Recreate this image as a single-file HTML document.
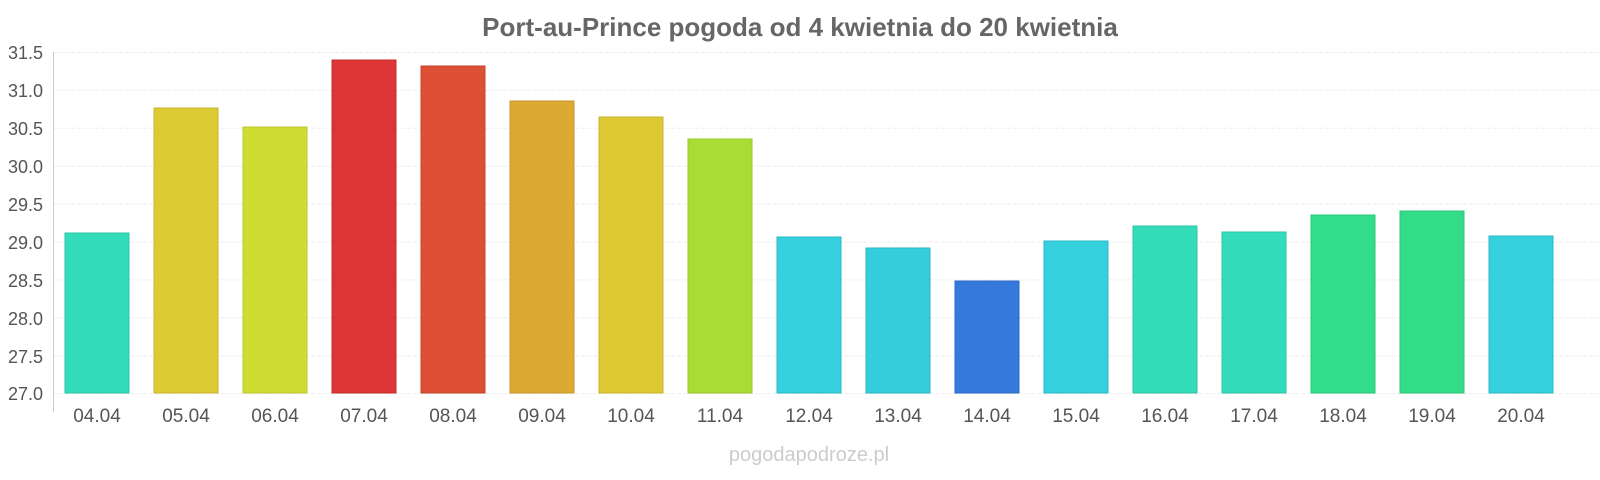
<!DOCTYPE html>
<html><head><meta charset="utf-8"><style>
html,body{margin:0;padding:0;background:#fff;overflow:hidden;width:1600px;height:480px;}
svg{display:block;font-family:"Liberation Sans",sans-serif;}
</style></head><body>
<svg width="1600" height="480" viewBox="0 0 1600 480" xmlns="http://www.w3.org/2000/svg">
<text x="800" y="36" text-anchor="middle" font-size="26" font-weight="bold" fill="#666">Port-au-Prince pogoda od 4 kwietnia do 20 kwietnia</text>
<g stroke="#eee" stroke-width="1" stroke-dasharray="4,2">
<line x1="53" x2="1600" y1="52.5" y2="52.5"/><line x1="53" x2="1600" y1="90.4" y2="90.4"/>
<line x1="53" x2="1600" y1="128.3" y2="128.3"/><line x1="53" x2="1600" y1="166.2" y2="166.2"/>
<line x1="53" x2="1600" y1="204.1" y2="204.1"/><line x1="53" x2="1600" y1="242" y2="242"/>
<line x1="53" x2="1600" y1="279.9" y2="279.9"/><line x1="53" x2="1600" y1="317.8" y2="317.8"/>
<line x1="53" x2="1600" y1="355.7" y2="355.7"/><line x1="53" x2="1600" y1="393.6" y2="393.6"/>
</g>
<line x1="53.5" x2="53.5" y1="52" y2="412" stroke="#ccc"/>
<g font-size="18" fill="#555" text-anchor="end">
<text x="43" y="59">31.5</text><text x="43" y="97">31.0</text><text x="43" y="135">30.5</text>
<text x="43" y="173">30.0</text><text x="43" y="211">29.5</text><text x="43" y="249">29.0</text>
<text x="43" y="287">28.5</text><text x="43" y="325">28.0</text><text x="43" y="363">27.5</text>
<text x="43" y="400">27.0</text>
</g>
<g stroke-width="1">
<rect x="65" y="233" width="64" height="160" fill="#33ddbb" stroke="#2cc4a6"/>
<rect x="154" y="108" width="64" height="285" fill="#dccb33" stroke="#c9b42c"/>
<rect x="243" y="127" width="64" height="266" fill="#cfdd33" stroke="#bcc82c"/>
<rect x="332" y="60" width="64" height="333" fill="#dd3535" stroke="#c42c2c"/>
<rect x="421" y="66" width="64" height="327" fill="#dd5035" stroke="#c4452c"/>
<rect x="510" y="101" width="64" height="292" fill="#dca933" stroke="#c9962c"/>
<rect x="599" y="117" width="64" height="276" fill="#dcc833" stroke="#c9b32c"/>
<rect x="688" y="139" width="64" height="254" fill="#aadd33" stroke="#98c62c"/>
<rect x="777" y="237" width="64" height="156" fill="#35cfdd" stroke="#2cb8c4"/>
<rect x="866" y="248" width="64" height="145" fill="#35cddd" stroke="#2cb6c4"/>
<rect x="955" y="281" width="64" height="112" fill="#3579dd" stroke="#2c6ac4"/>
<rect x="1044" y="241" width="64" height="152" fill="#35d0dd" stroke="#2cb9c4"/>
<rect x="1133" y="226" width="64" height="167" fill="#33ddba" stroke="#2cc4a5"/>
<rect x="1222" y="232" width="64" height="161" fill="#33ddbb" stroke="#2cc4a6"/>
<rect x="1311" y="215" width="64" height="178" fill="#33dd8a" stroke="#2cc47a"/>
<rect x="1400" y="211" width="64" height="182" fill="#33dd88" stroke="#2cc478"/>
<rect x="1489" y="236" width="64" height="157" fill="#35cfdd" stroke="#2cb8c4"/>
</g>
<g font-size="19" fill="#555" text-anchor="middle">
<text x="97" y="422">04.04</text><text x="186" y="422">05.04</text><text x="275" y="422">06.04</text>
<text x="364" y="422">07.04</text><text x="453" y="422">08.04</text><text x="542" y="422">09.04</text>
<text x="631" y="422">10.04</text><text x="720" y="422">11.04</text><text x="809" y="422">12.04</text>
<text x="898" y="422">13.04</text><text x="987" y="422">14.04</text><text x="1076" y="422">15.04</text>
<text x="1165" y="422">16.04</text><text x="1254" y="422">17.04</text><text x="1343" y="422">18.04</text>
<text x="1432" y="422">19.04</text><text x="1521" y="422">20.04</text>
</g>
<text x="809" y="461" text-anchor="middle" font-size="20" fill="#ccc">pogodapodroze.pl</text>
</svg>
</body></html>
